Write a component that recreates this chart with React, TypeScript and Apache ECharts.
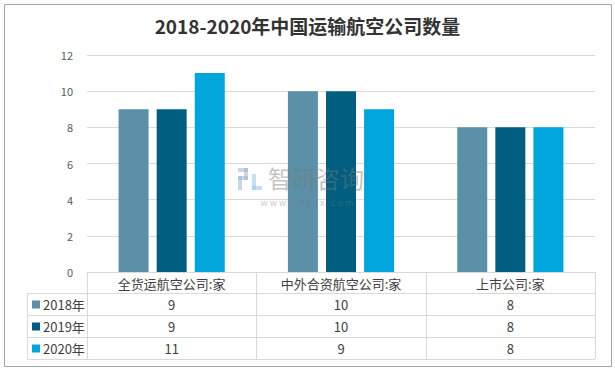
import React, { useEffect, useRef } from "react";
import * as echarts from "echarts";

const title = "2018-2020年中国运输航空公司数量";
const categories = ["全货运航空公司:家", "中外合资航空公司:家", "上市公司:家"];
const seriesNames = ["2018年", "2019年", "2020年"];
const values2018 = [9, 10, 8];
const values2019 = [9, 10, 8];
const values2020 = [11, 9, 8];
const seriesValues = [values2018, values2019, values2020];
const colors = ["#5b90a9", "#005f80", "#00a5dc"];
const yMin = 0;
const yMax = 12;
const yInterval = 2;

const FONT = "'Noto Sans CJK SC', 'Noto Sans', sans-serif";

export default function App() {
  const ref = useRef<HTMLDivElement>(null);

  useEffect(() => {
    document.body.style.margin = "0";
    const chart = echarts.init(ref.current!, null, { renderer: "svg" });
    const gridLeft = 87;
    const gridRight = 595;
    const gridTop = 55;
    const axisY = 272;

    chart.setOption({
      animation: false,
      backgroundColor: "#ffffff",
      textStyle: { fontFamily: FONT },
      title: {
        text: title,
        left: "center",
        top: 11,
        textStyle: { fontSize: 19, fontWeight: "bold", color: "#333333", fontFamily: FONT },
      },
      grid: { left: gridLeft, right: 615 - gridRight, top: gridTop, bottom: 372 - axisY },
      xAxis: {
        type: "category",
        data: categories,
        axisLine: { show: true, lineStyle: { color: "#d9d9d9" } },
        axisTick: { show: false },
        axisLabel: { show: true, margin: 5, fontSize: 13, color: "#404040", fontFamily: FONT },
      },
      yAxis: {
        type: "value",
        min: yMin,
        max: yMax,
        interval: yInterval,
        axisLine: { show: false },
        axisTick: { show: false },
        axisLabel: { margin: 14, fontSize: 11, color: "#595959", fontFamily: FONT },
        splitLine: { lineStyle: { color: "#d9d9d9", width: 1 } },
      },
      series: seriesNames.map((name, i) => ({
        name,
        type: "bar",
        data: seriesValues[i],
        barWidth: 30,
        barGap: "27%",
        itemStyle: { color: colors[i] },
      })),
    });

    const colW = (gridRight - gridLeft) / categories.length;
    const rowEdges = [293, 315, 337, 359];
    const tableLeft = 27;
    const lineStyle = { stroke: "#d9d9d9", lineWidth: 1 };
    const els: any[] = [];

    // outer border
    els.push({
      type: "rect",
      shape: { x: 4.5, y: 4.5, width: 607, height: 362 },
      style: { fill: "none", stroke: "#a6a6a6", lineWidth: 1 },
      z: 0,
    });

    // horizontal table lines
    rowEdges.forEach((y) => {
      els.push({ type: "line", shape: { x1: tableLeft, y1: y + 0.5, x2: gridRight, y2: y + 0.5 }, style: lineStyle });
    });
    // vertical lines
    for (let i = 0; i <= categories.length; i++) {
      const x = Math.round(gridLeft + i * colW) + 0.5;
      els.push({ type: "line", shape: { x1: x, y1: axisY, x2: x, y2: rowEdges[rowEdges.length - 1] }, style: lineStyle });
    }
    els.push({ type: "line", shape: { x1: tableLeft + 0.5, y1: rowEdges[0], x2: tableLeft + 0.5, y2: rowEdges[rowEdges.length - 1] }, style: lineStyle });

    // rows
    seriesNames.forEach((name, r) => {
      const cy = (rowEdges[r] + rowEdges[r + 1]) / 2 + 0.5;
      els.push({ type: "rect", shape: { x: 32, y: cy - 4, width: 8, height: 8 }, style: { fill: colors[r] } });
      els.push({
        type: "text",
        x: 43,
        y: cy,
        style: { text: name, fontSize: 13, fill: "#404040", fontFamily: FONT, verticalAlign: "middle", align: "left" },
      });
      seriesValues[r].forEach((v, c) => {
        const cx = chart.convertToPixel({ xAxisIndex: 0 }, c) as number;
        els.push({
          type: "text",
          x: cx,
          y: cy,
          style: { text: String(v), fontSize: 13, fill: "#404040", fontFamily: FONT, verticalAlign: "middle", align: "center" },
        });
      });
    });

    // watermark (drawn above the bars)
    const wmZ = 100;
    const logoA = "rgba(150,175,205,0.5)";
    const logoB = "rgba(150,200,230,0.55)";
    els.push(
      { type: "rect", z: wmZ, shape: { x: 238, y: 168, width: 10, height: 4 }, style: { fill: logoA } },
      { type: "rect", z: wmZ, shape: { x: 244, y: 168, width: 4, height: 12 }, style: { fill: logoA } },
      { type: "rect", z: wmZ, shape: { x: 238, y: 176, width: 10, height: 4 }, style: { fill: logoA } },
      { type: "rect", z: wmZ, shape: { x: 238, y: 176, width: 4, height: 14 }, style: { fill: logoA } },
      { type: "rect", z: wmZ, shape: { x: 252, y: 174, width: 4, height: 16 }, style: { fill: logoB } },
      { type: "rect", z: wmZ, shape: { x: 252, y: 186, width: 10, height: 4 }, style: { fill: logoB } },
      {
        type: "text",
        z: wmZ,
        x: 268,
        y: 177,
        style: { text: "智研咨询", fontSize: 24, fill: "rgba(120,120,120,0.45)", fontFamily: FONT, verticalAlign: "middle", align: "left" },
      },
      {
        type: "text",
        z: wmZ,
        x: 307,
        y: 202,
        style: { text: "w w w . c h y x x . c o m", fontSize: 9, fill: "rgba(120,120,120,0.45)", fontFamily: FONT, verticalAlign: "middle", align: "center" },
      }
    );

    chart.setOption({ graphic: els });

    return () => chart.dispose();
  }, []);

  return <div ref={ref} style={{ position: "fixed", left: 0, top: 0, width: 615, height: 372 }} />;
}
